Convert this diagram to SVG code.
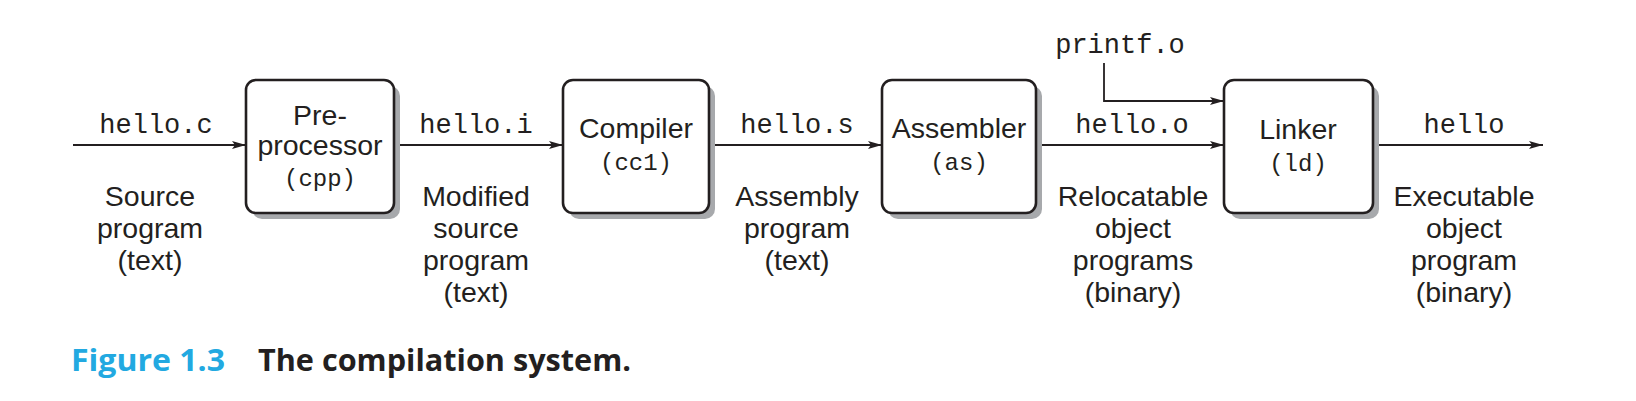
<svg xmlns="http://www.w3.org/2000/svg" width="1636" height="401" viewBox="0 0 1636 401">
<defs>
<marker id="ah" viewBox="0 0 14 8" refX="14" refY="4" markerWidth="14" markerHeight="8" markerUnits="userSpaceOnUse" orient="auto">
<path d="M0,0 L14,4 L0,8 L3,4 Z" fill="#231f20"/>
</marker>
</defs>
<style>
.box{fill:#fff;stroke:#231f20;stroke-width:2.6}
.shadow{fill:#a7a9ac}
.sans{font-family:"Liberation Sans",Arial,sans-serif;font-size:28.5px;fill:#231f20;text-anchor:middle}
.mono{font-family:"Liberation Mono","Courier New",monospace;font-size:27px;fill:#231f20;text-anchor:middle}
.bmono{font-family:"Liberation Mono","Courier New",monospace;font-size:24px;fill:#231f20;text-anchor:middle}
.conn{stroke:#231f20;stroke-width:1.8;fill:none;marker-end:url(#ah)}
.cap{font-family:"Open Sans","Noto Sans",sans-serif;font-size:30.5px;font-weight:bold}
</style>
<rect width="1636" height="401" fill="#fff"/>

<g id="connectors">
<line class="conn" x1="73" y1="145" x2="246" y2="145"/>
<line class="conn" x1="394" y1="145" x2="563" y2="145"/>
<line class="conn" x1="709" y1="145" x2="882" y2="145"/>
<line class="conn" x1="1036" y1="145" x2="1224" y2="145"/>
<line class="conn" x1="1373" y1="145" x2="1543" y2="145"/>
<polyline class="conn" points="1104,63 1104,101 1224,101"/>
</g>

<g id="labels">
<text class="mono" x="156" y="133">hello.c</text>
<text class="sans" x="150" y="206">Source</text>
<text class="sans" x="150" y="238">program</text>
<text class="sans" x="150" y="270">(text)</text>

<text class="mono" x="476" y="133">hello.i</text>
<text class="sans" x="476" y="206">Modified</text>
<text class="sans" x="476" y="238">source</text>
<text class="sans" x="476" y="270">program</text>
<text class="sans" x="476" y="302">(text)</text>

<text class="mono" x="797" y="133">hello.s</text>
<text class="sans" x="797" y="206">Assembly</text>
<text class="sans" x="797" y="238">program</text>
<text class="sans" x="797" y="270">(text)</text>

<text class="mono" x="1120" y="53">printf.o</text>
<text class="mono" x="1132" y="133">hello.o</text>
<text class="sans" x="1133" y="206">Relocatable</text>
<text class="sans" x="1133" y="238">object</text>
<text class="sans" x="1133" y="270">programs</text>
<text class="sans" x="1133" y="302">(binary)</text>

<text class="mono" x="1464" y="133">hello</text>
<text class="sans" x="1464" y="206">Executable</text>
<text class="sans" x="1464" y="238">object</text>
<text class="sans" x="1464" y="270">program</text>
<text class="sans" x="1464" y="302">(binary)</text>
</g>

<g id="preprocessor">
<rect class="shadow" x="252" y="86" width="148" height="133" rx="10"/>
<rect class="box" x="246" y="80" width="148" height="133" rx="10"/>
<text class="sans" x="320" y="125">Pre-</text>
<text class="sans" x="320" y="155">processor</text>
<text class="bmono" x="320" y="186">(cpp)</text>
</g>

<g id="compiler">
<rect class="shadow" x="569" y="86" width="146" height="133" rx="10"/>
<rect class="box" x="563" y="80" width="146" height="133" rx="10"/>
<text class="sans" x="636" y="138">Compiler</text>
<text class="bmono" x="636" y="170">(cc1)</text>
</g>

<g id="assembler">
<rect class="shadow" x="888" y="86" width="154" height="133" rx="10"/>
<rect class="box" x="882" y="80" width="154" height="133" rx="10"/>
<text class="sans" x="959" y="138">Assembler</text>
<text class="bmono" x="959" y="170">(as)</text>
</g>

<g id="linker">
<rect class="shadow" x="1230" y="86" width="149" height="133" rx="10"/>
<rect class="box" x="1224" y="80" width="149" height="133" rx="10"/>
<text class="sans" x="1298" y="139">Linker</text>
<text class="bmono" x="1298" y="171">(ld)</text>
</g>

<g id="caption">
<text class="cap" x="71" y="371" fill="#22a9e1" textLength="154" lengthAdjust="spacingAndGlyphs">Figure 1.3</text>
<text class="cap" x="258" y="371" fill="#231f20" textLength="373" lengthAdjust="spacingAndGlyphs">The compilation system.</text>
</g>
</svg>
